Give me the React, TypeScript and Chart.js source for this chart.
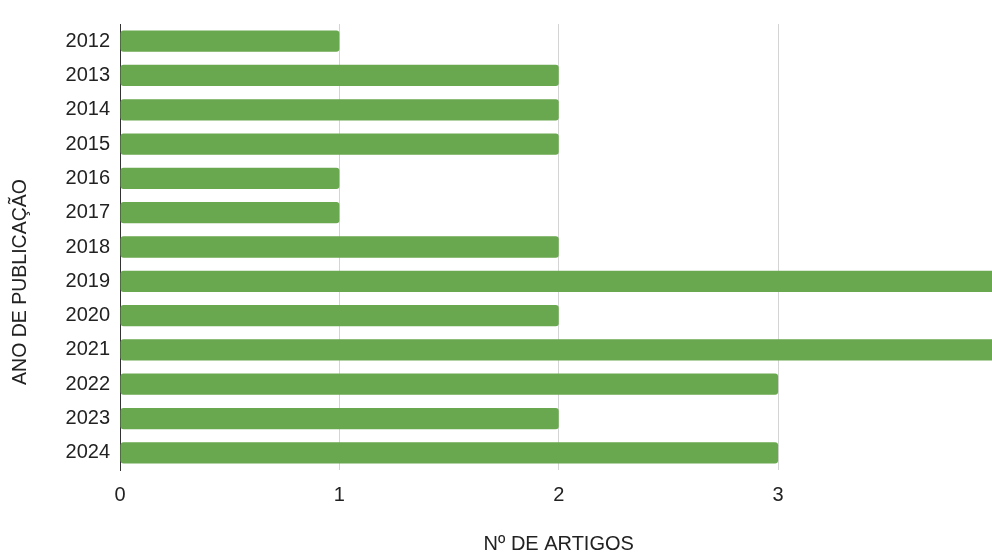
import React, { useEffect, useRef } from "react";
import { Chart, registerables } from "chart.js";

Chart.register(...registerables);

const years = ["2012", "2013", "2014", "2015", "2016", "2017", "2018", "2019", "2020", "2021", "2022", "2023", "2024"];
const articles = [1, 2, 2, 2, 1, 1, 2, 4, 2, 4, 3, 2, 3];
const xTitle = "Nº DE ARTIGOS";
const yTitle = "ANO DE PUBLICAÇÃO";

const FONT = "'Liberation Sans', Arial, sans-serif";

const yTitlePlugin = {
  id: "yTitlePlugin",
  afterDraw(chart: any) {
    const ctx = chart.ctx;
    ctx.save();
    ctx.translate(21, 282);
    ctx.rotate(-Math.PI / 2);
    ctx.font = `19.5px ${FONT}`;
    ctx.fillStyle = "#222222";
    ctx.textAlign = "center";
    ctx.textBaseline = "middle";
    ctx.fillText(yTitle, 0, 0);
    ctx.restore();
  },
};

export default function App() {
  const ref = useRef<HTMLCanvasElement>(null);
  useEffect(() => {
    if (!ref.current) return;
    const chart = new Chart(ref.current, {
      type: "bar",
      data: {
        labels: years,
        datasets: [
          {
            data: articles,
            backgroundColor: "#6aa84f",
            borderRadius: 3,
            borderSkipped: false,
            barPercentage: 0.62,
            categoryPercentage: 1,
          },
        ],
      },
      options: {
        indexAxis: "y",
        animation: false,
        responsive: false,
        layout: { padding: { top: 24, right: 14, bottom: 0, left: 0 } },
        plugins: { legend: { display: false }, tooltip: { enabled: false } },
        scales: {
          x: {
            min: 0,
            max: 4,
            ticks: { stepSize: 1, padding: 13, color: "#222222", font: { family: FONT, size: 20 } },
            grid: { color: "#d4d4d4", lineWidth: 1, drawTicks: false },
            border: { display: false },
            title: { display: true, text: xTitle, color: "#222222", font: { family: FONT, size: 20, lineHeight: 1 }, padding: { top: 0, bottom: 0 } },
            afterFit(scale: any) {
              scale.height = 84;
            },
          },
          y: {
            ticks: { padding: 10, color: "#222222", font: { family: FONT, size: 20 } },
            grid: { display: false, drawTicks: false },
            border: { display: true, color: "#333333", width: 1 },
            afterFit(scale: any) {
              scale.width = 120;
            },
          },
        },
      },
      plugins: [yTitlePlugin],
    } as any);
    return () => chart.destroy();
  }, []);
  return (
    <div style={{ position: "fixed", left: 0, top: 0, width: 992, height: 554, overflow: "hidden", background: "#fff" }}>
      <canvas ref={ref} width={1016} height={554} style={{ display: "block" }} />
    </div>
  );
}
